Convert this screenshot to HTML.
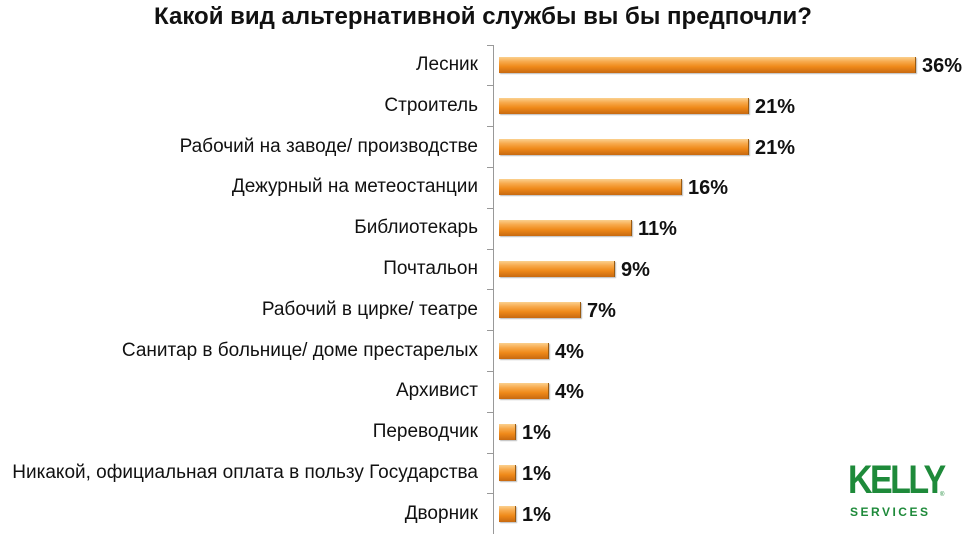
<!DOCTYPE html><html><head><meta charset="utf-8"><style>
body{margin:0;width:975px;height:534px;background:#fff;overflow:hidden;position:relative;font-family:"Liberation Sans","DejaVu Sans",sans-serif}
.t{position:absolute;left:0;width:966px;top:3px;text-align:center;font-size:24px;font-weight:bold;color:#111}
.l{position:absolute;right:497px;font-size:19px;color:#111;white-space:nowrap;line-height:22px}
.b{position:absolute;left:499px;height:16px;background:linear-gradient(#fbd08e 0%,#f7a84a 30%,#ef8a1a 60%,#c86a10 100%);border-right:1px solid #9a5a10;box-shadow:1px 1px 1px #bbb}
.v{position:absolute;font-size:20px;font-weight:bold;color:#111;line-height:22px}
.ax{position:absolute;left:493px;top:45px;width:1px;height:489px;background:#999}
.tk{position:absolute;left:487px;width:6px;height:1px;background:#999}
</style></head><body>
<div class="t">Какой вид альтернативной службы вы бы предпочли?</div>
<div class="ax"></div>
<div id="c"></div>
<div style="position:absolute;left:848px;top:458px;color:#1e8a3a;font-weight:bold;font-size:40px;letter-spacing:-3px;transform:scaleX(0.85);transform-origin:left">KELLY</div>
<div style="position:absolute;left:940px;top:492px;color:#1e8a3a;font-size:6px">®</div>
<div style="position:absolute;left:850px;top:505px;color:#1e8a3a;font-weight:bold;font-size:12px;letter-spacing:2.5px">SERVICES</div>
<script>
var d=[["Лесник",915,"36%"],["Строитель",748,"21%"],["Рабочий на заводе/ производстве",748,"21%"],["Дежурный на метеостанции",681,"16%"],["Библиотекарь",631,"11%"],["Почтальон",614,"9%"],["Рабочий в цирке/ театре",580,"7%"],["Санитар в больнице/ доме престарелых",548,"4%"],["Архивист",548,"4%"],["Переводчик",515,"1%"],["Никакой, официальная оплата в пользу Государства",515,"1%"],["Дворник",515,"1%"]];
var h="";d.forEach(function(r,i){var c=65+i*40.8;
h+='<div class="tk" style="top:'+(c-20.4)+'px"></div>';
h+='<div class="l" style="top:'+(c-11)+'px">'+r[0]+'</div>';
h+='<div class="b" style="top:'+(c-8)+'px;width:'+(r[1]-499)+'px"></div>';
h+='<div class="v" style="left:'+(r[1]+7)+'px;top:'+(c-10)+'px">'+r[2]+'</div>';});
document.getElementById("c").innerHTML=h;
</script></body></html>
